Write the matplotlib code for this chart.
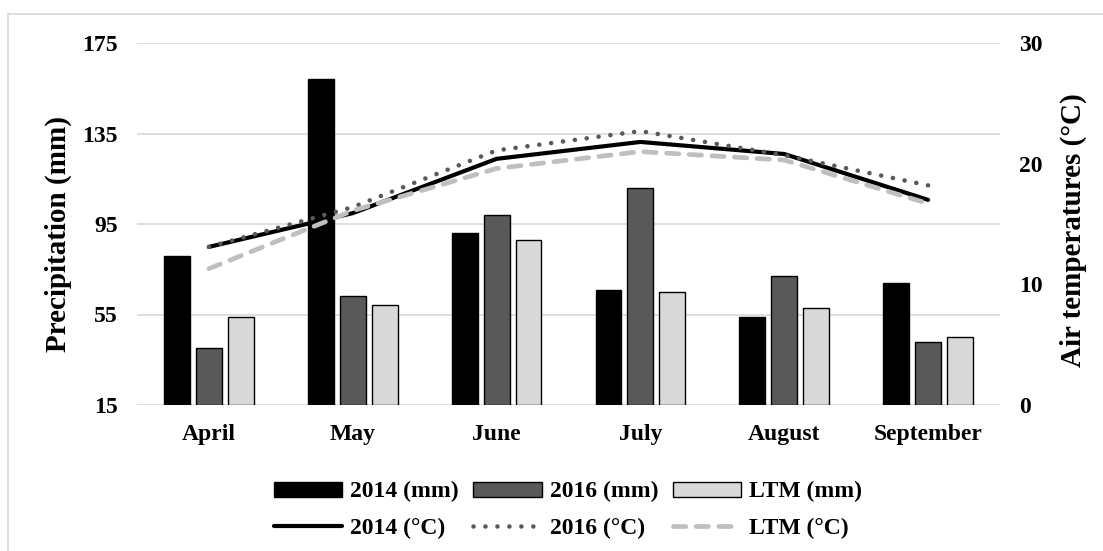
import matplotlib
matplotlib.use("Agg")
import matplotlib.pyplot as plt
import numpy as np
from matplotlib.patches import Rectangle

plt.rcParams['font.family'] = ['Liberation Serif', 'DejaVu Serif']
plt.rcParams['font.weight'] = 'bold'

months = ['April', 'May', 'June', 'July', 'August', 'September']
rain_2014 = [81, 159, 91, 66, 54, 69]
rain_2016 = [40, 63, 99, 111, 72, 43]
rain_ltm = [54, 59, 88, 65, 58, 45]
temp_2014 = [13.1, 15.9, 20.4, 21.8, 20.8, 17.0]
temp_2016 = [13.1, 16.4, 21.1, 22.7, 20.7, 18.2]
temp_ltm = [11.3, 16.1, 19.6, 21.0, 20.3, 16.7]

fig = plt.figure(figsize=(11.03, 5.51), dpi=100)
ax = fig.add_axes([137/1103, 1-405/551, (1000-137)/1103, (405-43)/551])

# light outer frame like the Excel chart area
fig.patches.append(Rectangle((8/1103, -0.1), 1.2, 1-14/551+0.1, transform=fig.transFigure,
                             fill=False, edgecolor='#d9d9d9', lw=1.2))

x = np.arange(len(months))
pitch = 0.222
w = 0.18
b1 = ax.bar(x - pitch, np.array(rain_2014) - 15, w, bottom=15, color='black', edgecolor='black', lw=1, label='2014 (mm)')
b2 = ax.bar(x, np.array(rain_2016) - 15, w, bottom=15, color='#595959', edgecolor='black', lw=1, label='2016 (mm)')
b3 = ax.bar(x + pitch, np.array(rain_ltm) - 15, w, bottom=15, color='#d9d9d9', edgecolor='black', lw=1, label='LTM (mm)')

ax.set_ylim(15, 175)
ax.set_yticks([15, 55, 95, 135, 175])
ax.set_xlim(-0.5, 5.5)
ax.set_xticks(x)
ax.set_xticklabels(months)
ax.yaxis.grid(True, color='#d9d9d9', lw=1.2)
ax.set_axisbelow(True)
for s in ax.spines.values():
    s.set_visible(False)
ax.tick_params(length=0, labelsize=17)
ax.tick_params(axis='y', pad=14)
ax.tick_params(axis='x', pad=14)
ax.set_ylabel('Precipitation (mm)', fontsize=21, fontweight='bold')
ax.yaxis.set_label_coords(-0.075, 0.472)

ax2 = ax.twinx()
l1, = ax2.plot(x, temp_2014, color='black', lw=3, solid_capstyle='round', label='2014 (°C)')
l2, = ax2.plot(x, temp_2016, color='#595959', lw=3.3, linestyle=(0, (0.01, 2.6)),
               dash_capstyle='round', label='2016 (°C)')
l3, = ax2.plot(x, temp_ltm, color='#bfbfbf', lw=3.4, linestyle=(0, (2.6, 2.2)),
               dash_capstyle='round', label='LTM (°C)')
ax2.set_ylim(0, 30)
ax2.set_yticks([0, 10, 20, 30])
for s in ax2.spines.values():
    s.set_visible(False)
ax2.tick_params(length=0, labelsize=17, pad=14)
ax2.set_ylabel('Air temperatures (°C)', fontsize=21, fontweight='bold')
ax2.yaxis.set_label_coords(1.0695, 0.483)

fig.legend([b1, l1, b2, l2, b3, l3],
           ['2014 (mm)', '2014 (°C)', '2016 (mm)', '2016 (°C)', 'LTM (mm)', 'LTM (°C)'],
           ncol=3, loc='center', bbox_to_anchor=(568/1103, 1-510/551), frameon=False,
           fontsize=17, handlelength=2.9, handleheight=0.6, handletextpad=0.35,
           columnspacing=0.6, labelspacing=0.65)

fig.savefig('out.png', dpi=100)
